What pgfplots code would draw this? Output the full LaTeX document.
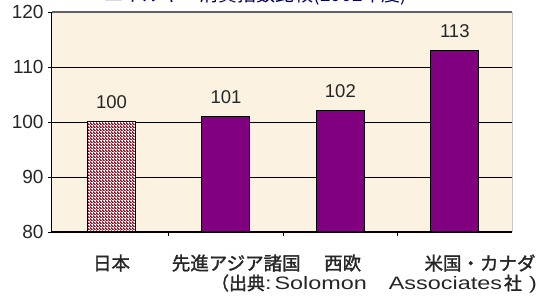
\documentclass[border=0pt]{standalone}
\usepackage{pgfplots}
\pgfplotsset{compat=1.18}
\usepackage{fontspec}
\setmainfont{Liberation Sans}
\newfontfamily\cjk{Noto Sans CJK JP}
\newfontfamily\cjkb[FakeBold=1.6]{Noto Sans CJK JP}
\newfontfamily\latw[FakeStretch=1.3]{Liberation Sans}
\usetikzlibrary{patterns.meta}
\definecolor{bg}{RGB}{251,242,226}
\definecolor{barp}{RGB}{128,0,128}
\definecolor{hatch}{RGB}{135,5,25}
\pgfdeclarepattern{
  name=jphatch, type=uncolored,
  bottom left={\pgfpoint{0pt}{0pt}}, top right={\pgfpoint{3pt}{3pt}},
  tile size={\pgfpoint{3pt}{3pt}},
  code={\pgfsetlinewidth{1.5pt}
    \pgfpathmoveto{\pgfpoint{-1pt}{4pt}}\pgfpathlineto{\pgfpoint{4pt}{-1pt}}
    \pgfusepath{stroke}}}
\begin{document}
\begin{tikzpicture}
\clip (-52pt,-64pt) rectangle (485pt,232pt);
\begin{axis}[
  at={(0pt,0pt)}, anchor=south west,
  scale only axis, width=460pt, height=220pt,
  xmin=-0.52, xmax=3.5, ymin=80, ymax=120,
  ytick={80,90,100,110,120},
  ymajorgrids, grid style={black, line width=0.7pt},
  axis background/.style={fill=bg},
  axis line style={draw=none},
  xtick={0.5,1.5,2.5}, xticklabels={},
  xtick pos=lower, ytick pos=left,
  x tick style={black, line width=0.6pt}, xtick align=inside, major tick length=4pt,
  y tick style={black, line width=0.6pt}, ytick align=outside,
  extra x ticks={0,1.09,2.02,3.22},
  extra x tick labels={日本,先進アジア諸国,西欧,米国・カナダ},
  extra x tick style={major tick length=0pt},
  xticklabel style={font=\cjkb\fontsize{18.5}{18.5}\selectfont, yshift=-19pt, text=black!85},
  yticklabel style={font=\fontsize{19}{19}\selectfont, xshift=-1pt, text=black!85},
  /pgf/number format/assume math mode=true,
  ybar, bar width=48pt, bar shift=0pt,
  nodes near coords,
  nodes near coords style={font=\fontsize{18.5}{18.5}\selectfont, yshift=9pt, text=black!85},
  clip=false,
  after end axis/.code={
    \draw[gray!75!black, line width=1.3pt] (rel axis cs:0,1) -- (rel axis cs:1,1);
    \draw[gray!45, line width=1pt] (rel axis cs:1,1) -- (rel axis cs:1,0);
    \draw[black, line width=1pt] (rel axis cs:0,1) -- (rel axis cs:0,0) -- (rel axis cs:1,0);
  },
]
\addplot[draw=black, line width=1pt, fill=white,
  postaction={pattern={jphatch}, pattern color=hatch}] coordinates {(0,100)};
\addplot[draw=black, line width=1pt, fill=barp] coordinates {(1,101) (2,102) (3,113)};
\end{axis}
\node[anchor=base, font=\cjk\fontsize{19}{19}\selectfont, text=blue!40!black] at (204pt,230pt) {エネルギー消費指数比較(2002年度)};
\node[anchor=east, inner sep=0pt, text=black!85] at (485pt,-52pt) {{\cjkb\fontsize{18}{18}\selectfont （出典}{\latw\fontsize{18}{18}\selectfont:\hspace{3pt}Solomon\hspace{22pt}Associates}\hspace{2pt}{\cjkb\fontsize{18}{18}\selectfont 社}\hspace{7pt}{\latw\fontsize{18}{18}\selectfont)}};
\end{tikzpicture}
\end{document}
